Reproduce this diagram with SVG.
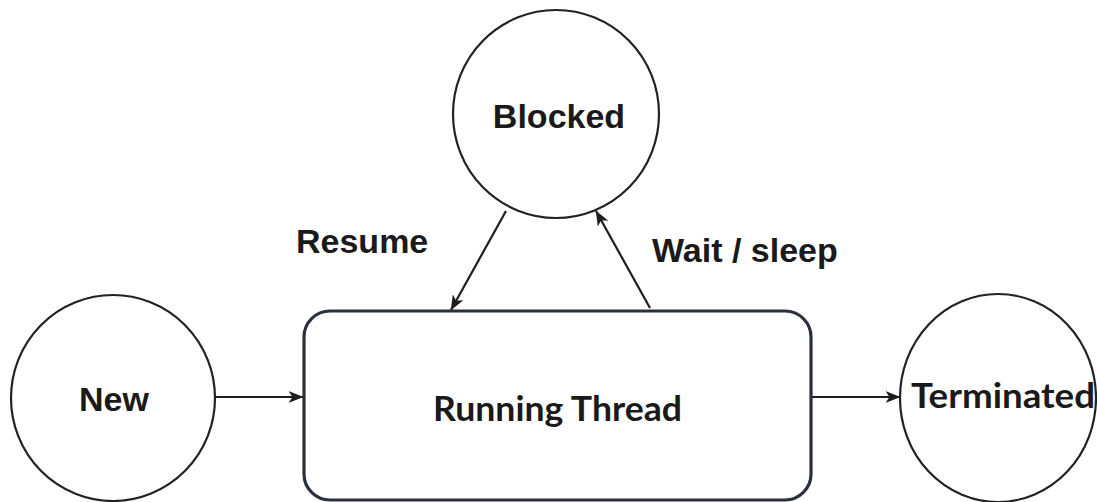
<svg xmlns="http://www.w3.org/2000/svg" width="1097" height="502" viewBox="0 0 1097 502">
  <style>
    .state { fill: #ffffff; stroke: #222222; stroke-width: 2.2; }
    .proc { fill: #ffffff; stroke: #2a303c; stroke-width: 3.2; }
    .lbl { font-family: "Liberation Sans", Arial, sans-serif; font-weight: bold; font-size: 34px; fill: #1a1a1a; }
    .lbl2 { font-family: Lato, "Open Sans", sans-serif; font-weight: bold; font-size: 34px; fill: #1a1a1a; }
    .edge { fill: none; stroke: #1e1e1e; stroke-width: 2.2; }
  </style>
  <defs>
    <marker id="arrow" viewBox="0 0 15 12" refX="14.5" refY="6" markerWidth="15" markerHeight="12" markerUnits="userSpaceOnUse" orient="auto">
      <path d="M0,0 L15,6 L0,12 L4,6 Z" fill="#1e1e1e"/>
    </marker>
  </defs>
  <rect width="1097" height="502" fill="#ffffff"/>

  <!-- transitions -->
  <g id="connectors">
    <line class="edge" x1="215" y1="397" x2="303" y2="397" marker-end="url(#arrow)"/>
    <line class="edge" x1="812" y1="397" x2="900" y2="397" marker-end="url(#arrow)"/>
    <line class="edge" x1="506" y1="211" x2="451" y2="310" marker-end="url(#arrow)"/>
    <line class="edge" x1="650" y1="308" x2="596" y2="211" marker-end="url(#arrow)"/>
    <text class="lbl" x="296" y="253">Resume</text>
    <text class="lbl" x="652" y="262">Wait / sleep</text>
  </g>

  <g id="new">
    <ellipse class="state" cx="113" cy="398" rx="102" ry="103"/>
    <text class="lbl" x="114" y="411" text-anchor="middle">New</text>
  </g>

  <g id="blocked">
    <ellipse class="state" cx="556" cy="114" rx="103" ry="104"/>
    <text class="lbl" x="559" y="128" text-anchor="middle">Blocked</text>
  </g>

  <g id="running">
    <rect class="proc" x="304" y="311" width="507" height="189" rx="26" ry="26"/>
    <text class="lbl2" x="433" y="421" textLength="249" lengthAdjust="spacingAndGlyphs">Running Thread</text>
  </g>

  <g id="terminated">
    <ellipse class="state" cx="998" cy="398" rx="98" ry="104"/>
    <text class="lbl2" x="911" y="408" font-size="32" textLength="184" lengthAdjust="spacingAndGlyphs">Terminated</text>
  </g>
</svg>
